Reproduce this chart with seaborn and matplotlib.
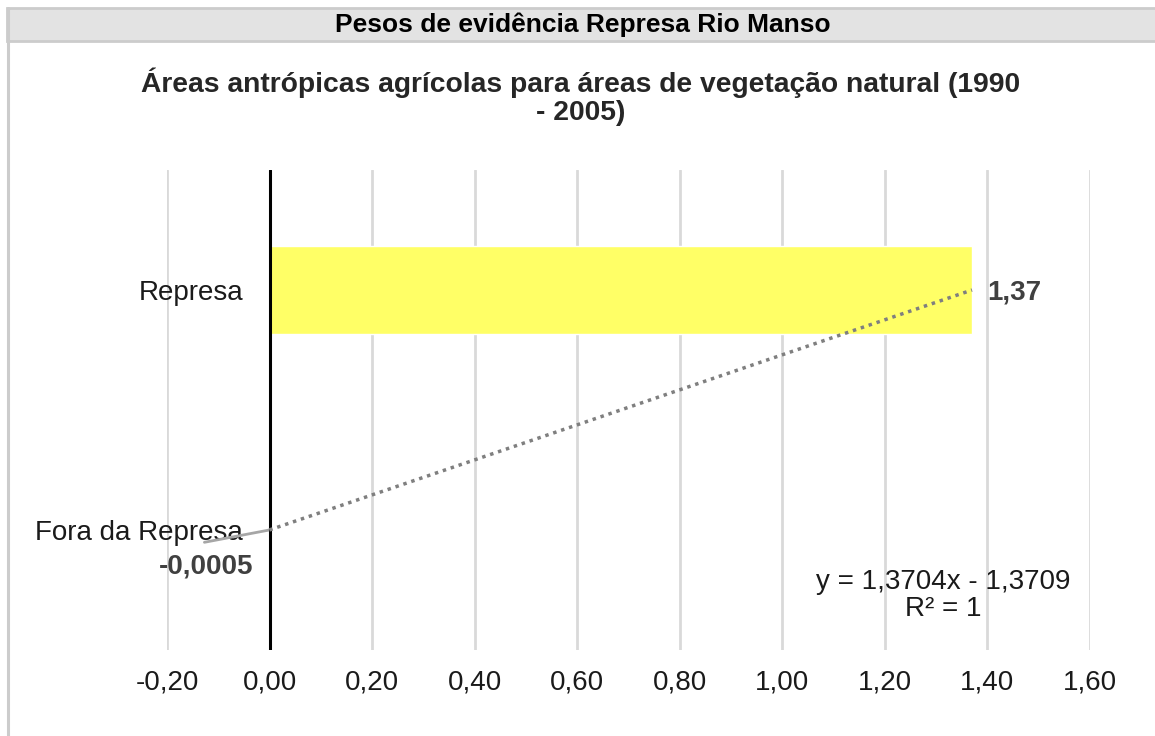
import numpy as np
import matplotlib
matplotlib.use("Agg")
import matplotlib.pyplot as plt
import seaborn as sns
from matplotlib.patches import Rectangle
from matplotlib.lines import Line2D

categories = ["Represa", "Fora da Represa"]
values = [1.37, -0.0005]
value_labels = ["1,37", "-0,0005"]
xticks = [-0.2, 0.0, 0.2, 0.4, 0.6, 0.8, 1.0, 1.2, 1.4, 1.6]
xtick_labels = ["-0,20", "0,00", "0,20", "0,40", "0,60", "0,80", "1,00", "1,20", "1,40", "1,60"]
trend_slope = 1.3704
trend_intercept = -1.3709
trend_text = "y = 1,3704x - 1,3709\nR² = 1"

header = "Pesos de evidência Represa Rio Manso"
title = "Áreas antrópicas agrícolas para áreas de vegetação natural (1990\n- 2005)"

sns.set_theme(style="white")
plt.rcParams['font.family'] = ['Liberation Sans', 'DejaVu Sans']

fig = plt.figure(figsize=(11.55, 7.36), dpi=100)

# header band + frame
fig.patches.append(Rectangle((7/1155, 1-41/736), 1.0, 33/736, transform=fig.transFigure,
                             facecolor="#e3e3e3", edgecolor="#cccccc", linewidth=2))
fig.lines.append(Line2D([8/1155, 8/1155], [0, 1-8/736], transform=fig.transFigure,
                        color="#cccccc", linewidth=2.2))
fig.text(583/1155, 1-25/736, header, ha="center", va="center", fontsize=19,
         fontweight="bold", color="#000000")

ax = fig.add_axes([167/1155, 1-650/736, 923/1155, 480/736])

sns.barplot(x=values, y=categories, orient="h", color="#FFFF66", width=0.37,
            saturation=1, ax=ax, zorder=3)

ax.set_xlim(-0.2, 1.6)
ax.set_ylim(1.5, -0.5)
ax.set_xticks(xticks)
ax.set_xticklabels(xtick_labels, fontsize=20, color="#1a1a1a")
ax.tick_params(axis="x", length=0, pad=14)
ax.set_xlabel("")
ax.set_ylabel("")
for s in ax.spines.values():
    s.set_visible(False)
# category axis crosses at 0, like Excel
ax.spines["left"].set_position(("data", 0))
ax.tick_params(axis="y", labelsize=20, length=0, pad=19)
for lbl in ax.get_yticklabels():
    lbl.set_color("#1a1a1a")

ax.xaxis.grid(True, color="#d9d9d9", linewidth=2)
ax.set_axisbelow(True)
ax.axvline(0, color="#000000", linewidth=2.2, zorder=4)

# linear trendline (Excel category index 1..n, bottom to top)
n = len(categories)
k = np.array([1, n])
trend_vals = trend_slope * k + trend_intercept
ax.plot(trend_vals, n - k, linestyle=(0, (1, 1.4)), color="#7f7f7f", linewidth=2.5, zorder=5)

# data labels
ax.annotate(value_labels[0], xy=(values[0], 0), xytext=(15, -3), textcoords="offset pixels",
            ha="left", va="center", fontsize=20, fontweight="bold", color="#404040")
ax.annotate(value_labels[1], xy=(values[1], 1), xytext=(-63, -37), textcoords="offset pixels",
            ha="center", va="center", fontsize=20, fontweight="bold", color="#404040",
            arrowprops=dict(arrowstyle="-", color="#a6a6a6", linewidth=2,
                            shrinkA=0, shrinkB=0, relpos=(0.48, 1.45)))

ax.text(0.841, 0.113, trend_text, transform=ax.transAxes, ha="center", va="center",
        fontsize=20, color="#1a1a1a", linespacing=1.05)

fig.text(581/1155, 1-97/736, title, ha="center", va="center", fontsize=20.3,
         fontweight="bold", color="#262626", linespacing=1.1)

fig.savefig("out.png", dpi=100)
